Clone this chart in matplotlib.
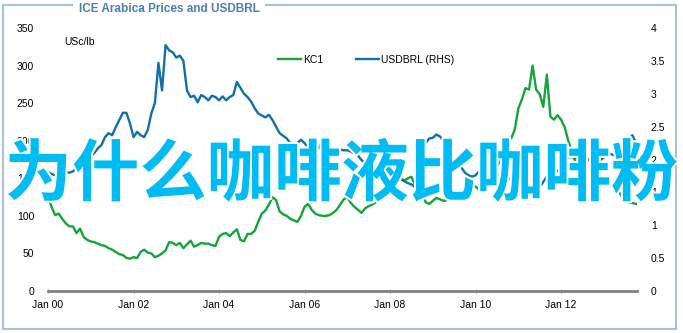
import matplotlib
matplotlib.use("Agg")
import matplotlib.pyplot as plt
import matplotlib.patheffects as pe
from matplotlib.patches import Rectangle
import numpy as np

plt.rcParams['font.family'] = ['Liberation Sans', 'DejaVu Sans']

# monthly values, Jan 2000 .. Oct 2013
kc1 = [125, 112, 101, 103, 96, 90, 86, 86, 77, 83, 72, 68,
       66, 65, 63, 61, 60, 57, 55, 52, 49, 48, 44, 43,
       45, 44, 52, 55, 51, 50, 45, 47, 50, 54, 65, 64,
       61, 64, 57, 62, 67, 59, 61, 64, 63, 63, 61, 60,
       72, 76, 77, 73, 78, 82, 68, 66, 76, 76, 80, 92,
       103, 107, 115, 125, 121, 106, 102, 100, 96, 94, 92, 100,
       112, 116, 108, 103, 101, 100, 100, 101, 104, 108, 115, 122,
       125, 117, 112, 108, 104, 110, 113, 115, 118, 124, 125, 132,
       138, 143, 160, 150, 147, 150, 152, 141, 138, 130, 118, 116,
       120, 124, 122, 120, 121, 122, 124, 125, 130, 137, 139, 139,
       139, 135, 134, 138, 150, 160, 165, 175, 186, 200, 203, 215,
       243, 255, 270, 268, 300, 268, 262, 245, 288, 232, 228, 234,
       228, 218, 200, 186, 172, 160, 168, 172, 176, 170, 160, 152,
       147, 145, 140, 137, 134, 126, 121, 118, 117, 116]

usdbrl = [1.81, 1.78, 1.76, 1.77, 1.80, 1.81, 1.80, 1.82, 1.86, 1.90, 1.95, 1.97,
          2.05, 2.10, 2.17, 2.22, 2.34, 2.40, 2.37, 2.49, 2.60, 2.71, 2.71, 2.55,
          2.34, 2.42, 2.37, 2.34, 2.45, 2.70, 2.86, 3.47, 3.05, 3.74, 3.66, 3.63,
          3.55, 3.58, 3.50, 3.05, 2.95, 2.97, 2.87, 2.98, 2.95, 2.90, 2.97, 2.95,
          2.90, 2.96, 2.90, 2.95, 2.98, 3.18, 3.09, 3.00, 2.95, 2.88, 2.78, 2.70,
          2.67, 2.64, 2.68, 2.60, 2.50, 2.40, 2.36, 2.32, 2.25, 2.25, 2.25, 2.30,
          2.25, 2.18, 2.12, 2.14, 2.17, 2.30, 2.20, 2.15, 2.15, 2.16, 2.15, 2.14,
          2.14, 2.12, 2.09, 2.06, 1.99, 1.95, 1.93, 1.95, 1.88, 1.84, 1.78, 1.77,
          1.75, 1.73, 1.72, 1.70, 1.67, 1.64, 1.62, 1.58, 1.65, 2.04, 2.25, 2.32,
          2.33, 2.38, 2.35, 2.28, 2.15, 2.05, 1.96, 1.92, 1.88, 1.80, 1.76, 1.74,
          1.76, 1.82, 1.80, 1.74, 1.78, 1.85, 1.78, 1.75, 1.73, 1.71, 1.69, 1.70,
          1.74, 1.67, 1.64, 1.58, 1.57, 1.57, 1.58, 1.66, 1.74, 1.82, 1.86, 1.82,
          1.88, 1.95, 2.03, 2.04, 2.02, 2.01, 2.02, 2.00, 1.99, 2.02, 2.01, 1.99,
          2.03, 2.10, 2.08, 2.06, 2.13, 2.20, 2.22, 2.30, 2.37, 2.25]

tick_months = [0, 24, 48, 72, 96, 120, 144]
tick_labels = ["Jan 00", "Jan 02", "Jan 04", "Jan 06", "Jan 08", "Jan 10", "Jan 12"]
left_ticks = [0, 50, 100, 150, 200, 250, 300, 350]
right_ticks = [0, 0.5, 1, 1.5, 2, 2.5, 3, 3.5, 4]

months = np.arange(len(kc1))
green = "#13a538"
blue = "#1170a8"

fig = plt.figure(figsize=(6.83, 3.33), dpi=100)
ax = fig.add_axes([48/683, 42/333, 589/683, 263/333])
ax2 = ax.twinx()

l1, = ax.plot(months, kc1, color=green, lw=1.7, label="KC1")
l2, = ax2.plot(months, usdbrl, color=blue, lw=1.7, label="USDBRL (RHS)")

ax.set_xlim(0, 165.3)
ax.set_ylim(0, 350)
ax2.set_ylim(0, 4)
ax.set_yticks(left_ticks)
ax.set_yticklabels([str(v) for v in left_ticks])
ax2.set_yticks(right_ticks)
ax2.set_yticklabels(["0", "0.5", "1", "1.5", "2", "2.5", "3", "3.5", "4"])
ax.set_xticks(tick_months)
ax.set_xticklabels(tick_labels)

for a in (ax, ax2):
    for s in ("top", "left", "right", "bottom"):
        a.spines[s].set_visible(False)
ax.spines["bottom"].set_visible(True)
ax.spines["bottom"].set_color("#808080")
ax.spines["bottom"].set_linewidth(2)

ax.tick_params(axis="y", length=0, pad=10, labelsize=7.5)
ax2.tick_params(axis="y", length=0, pad=10, labelsize=7.5)
ax.tick_params(axis="x", length=3, color="#a0a0a0", direction="inout", pad=5, labelsize=7.5)

ax.text(0.027, 0.965, "USc/lb", transform=ax.transAxes, fontsize=7.5, va="top", ha="left")

fig.legend([l1, l2], ["KC1", "USDBRL (RHS)"], loc="center", bbox_to_anchor=(0.536, 0.82),
           ncol=2, frameon=False, fontsize=7.5, handlelength=2.2, columnspacing=3.2,
           handletextpad=0.2)

# outer frame
fig.patches.append(Rectangle((3/683, 4/333), 673/683, 324/333, transform=fig.transFigure,
                             fill=False, edgecolor="#a9c0da", lw=1.5))
fig.text(169/683, 1 - 9/333, "ICE Arabica Prices and USDBRL", ha="center", va="center",
         fontsize=8.5, fontweight="bold", color="#4d7eab",
         bbox=dict(facecolor="white", edgecolor="none", pad=4))

fig.text(0.5, 0.472, "为什么咖啡液比咖啡粉", ha="center", va="center", fontsize=48.5,
         family=["Noto Sans CJK SC", "DejaVu Sans"], fontweight="bold", color="#00bcf2",
         path_effects=[pe.withStroke(linewidth=3, foreground="white")], zorder=10)

fig.savefig("out.png", dpi=100)
